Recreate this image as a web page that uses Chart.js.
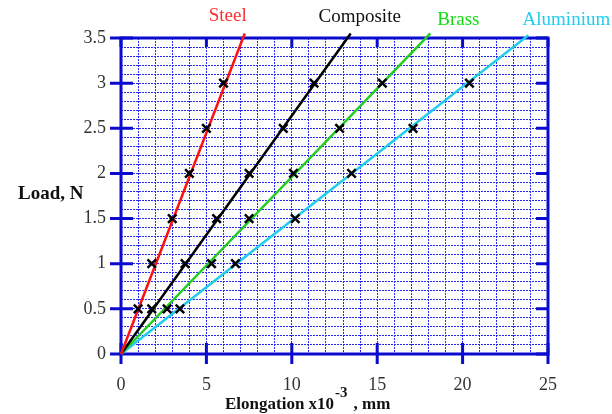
<!DOCTYPE html>
<html>
<head>
<meta charset="utf-8">
<script src="https://cdn.jsdelivr.net/npm/chart.js@4/dist/chart.umd.min.js"></script>
<style>
  html, body { margin: 0; padding: 0; background: #fff; }
  #wrap { width: 612px; height: 414px; }
</style>
</head>
<body>
<div id="wrap"><canvas id="loadChart" width="612" height="414"></canvas></div>
<script>
// load (N) at each measured point, same for all four materials
const loads = [0.5, 1, 1.5, 2, 2.5, 3];
// elongation (x10^-3 mm) read for each material
const steelX = [1, 1.8, 3, 4, 5, 6];
const compositeX = [1.8, 3.75, 5.6, 7.5, 9.5, 11.3];
const brassX = [2.7, 5.3, 7.5, 10.1, 12.8, 15.3];
const aluminiumX = [3.45, 6.7, 10.2, 13.5, 17.1, 20.4];
const materials = ['Steel', 'Composite', 'Brass', 'Aluminium'];
// best-fit line through origin: load per unit elongation, and load where each line stops
const fitSlopes = [0.49, 0.264, 0.196, 0.148];
const fitEndLoad = [3.55, 3.55, 3.55, 3.53];

const lineColors = ['#ff1010', '#000000', '#22cc22', '#22ccee'];
const textColors = ['#ff3030', '#111111', '#11dd11', '#22ccee'];
// label placement relative to the top end of each line (px)
const labelOffsets = [[-17, -17], [9, -16], [28, -13], [38, -15]];

const allX = [steelX, compositeX, brassX, aluminiumX];
const AXIS = '#0a0ad0';
const SERIF = '"Liberation Serif", "DejaVu Serif", serif';

const datasets = [];
allX.forEach((xs, i) => {
    datasets.push({
        label: materials[i] + ' points',
        data: xs.map((x, k) => ({x: x, y: loads[k]})),
        showLine: false,
        pointStyle: 'crossRot',
        pointRadius: 6,
        pointBorderWidth: 2.5,
        pointBorderColor: '#000',
        order: 0
    });
});
allX.forEach((xs, i) => {
    const yEnd = fitEndLoad[i];
    datasets.push({
        label: materials[i],
        data: [{x: 0, y: 0}, {x: yEnd / fitSlopes[i], y: yEnd}],
        showLine: true,
        borderColor: lineColors[i],
        borderWidth: 2.5,
        pointRadius: 0,
        clip: false,
        order: 1
    });
});

const frame = {
    id: 'frame',
    beforeDatasetsDraw(chart) {
        const c = chart.ctx, a = chart.chartArea;
        const xs = chart.scales.x, ys = chart.scales.y;
        c.save();
        c.strokeStyle = AXIS;
        c.lineWidth = 3;
        c.strokeRect(a.left, a.top, a.right - a.left, a.bottom - a.top);
        c.beginPath();
        for (let v = 0; v <= 25; v += 5) {
            const px = xs.getPixelForValue(v);
            c.moveTo(px, a.bottom - 11); c.lineTo(px, a.bottom + 10);
            c.moveTo(px, a.top); c.lineTo(px, a.top + 9);
        }
        for (let v = 0; v <= 3.5; v += 0.5) {
            const py = ys.getPixelForValue(v);
            c.moveTo(a.left - 11, py); c.lineTo(a.left + (v > 0 ? 12 : 0), py);
            c.moveTo(a.right, py); c.lineTo(a.right - 12, py);
        }
        c.stroke();
        c.restore();
    },
    afterDraw(chart) {
        const c = chart.ctx;
        const xs = chart.scales.x, ys = chart.scales.y;
        c.save();
        // material names near the end of each line
        c.font = '19px ' + SERIF;
        c.textAlign = 'center';
        c.textBaseline = 'middle';
        materials.forEach((m, i) => {
            const yEnd = fitEndLoad[i];
            const px = xs.getPixelForValue(yEnd / fitSlopes[i]);
            const py = ys.getPixelForValue(yEnd);
            c.fillStyle = textColors[i];
            c.fillText(m, px + labelOffsets[i][0], py + labelOffsets[i][1]);
        });
        // axis titles
        c.fillStyle = '#111';
        c.textAlign = 'left';
        c.textBaseline = 'alphabetic';
        c.font = 'bold 19px ' + SERIF;
        c.fillText('Load, N', 18, 199);
        let x = 225;
        const base = 409;
        c.font = 'bold 17px ' + SERIF;
        c.fillText('Elongation x10', x, base);
        x += c.measureText('Elongation x10').width + 1;
        c.font = 'bold 15px ' + SERIF;
        c.fillText('-3', x, base - 12);
        x += c.measureText('-3').width + 6;
        c.font = 'bold 17px ' + SERIF;
        c.fillText(', mm', x, base);
        c.restore();
    }
};

const tickFont = {family: SERIF, size: 18};
new Chart(document.getElementById('loadChart'), {
    type: 'scatter',
    data: {datasets: datasets},
    options: {
        responsive: false,
        animation: false,
        layout: {padding: {left: 0, top: 38, right: 64, bottom: 0}},
        plugins: {legend: {display: false}, tooltip: {enabled: false}},
        scales: {
            x: {
                type: 'linear',
                min: 0, max: 25,
                afterFit(s) { s.height = 60; },
                border: {display: false, dash: [2, 1]},
                grid: {color: '#2a2aee', lineWidth: 1, drawTicks: false},
                ticks: {
                    stepSize: 1, autoSkip: false, maxRotation: 0, padding: 20,
                    color: '#333', font: tickFont,
                    callback: v => (v % 5 === 0 ? String(v) : '')
                }
            },
            y: {
                type: 'linear',
                min: 0, max: 3.5,
                afterFit(s) { s.width = 121; },
                border: {display: false, dash: [2, 1]},
                grid: {color: '#2a2aee', lineWidth: 1, drawTicks: false},
                ticks: {
                    stepSize: 0.1, autoSkip: false, padding: 15,
                    color: '#333', font: tickFont,
                    callback: v => (Math.abs(v * 2 - Math.round(v * 2)) < 1e-6 ? String(Math.round(v * 2) / 2) : '')
                }
            }
        }
    },
    plugins: [frame]
});
</script>
</body>
</html>
